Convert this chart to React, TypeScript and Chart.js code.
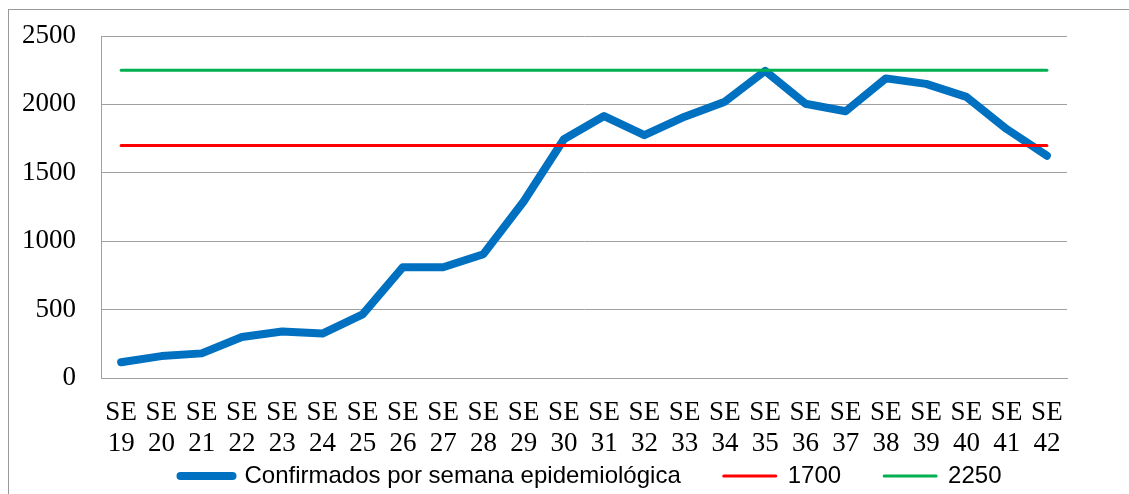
import React, { useEffect, useRef } from 'react';
import { Chart, registerables } from 'chart.js';
Chart.register(...registerables);

const weekNumbers = ['19','20','21','22','23','24','25','26','27','28','29','30','31','32','33','34','35','36','37','38','39','40','41','42'];
const categoryLabels = weekNumbers.map((w) => ['SE', w]);
const confirmedPerWeek = [115, 160, 180, 300, 340, 325, 465, 810, 810, 905, 1290, 1745, 1915, 1775, 1910, 2020, 2245, 2005, 1950, 2190, 2150, 2055, 1820, 1625];
const threshold1700 = [1700,1700,1700,1700,1700,1700,1700,1700,1700,1700,1700,1700,1700,1700,1700,1700,1700,1700,1700,1700,1700,1700,1700,1700];
const threshold2250 = [2250,2250,2250,2250,2250,2250,2250,2250,2250,2250,2250,2250,2250,2250,2250,2250,2250,2250,2250,2250,2250,2250,2250,2250];
const seriesNames = ['Confirmados por semana epidemiológica', '1700', '2250'];
const yTicks = [0, 500, 1000, 1500, 2000, 2500];

const CW = 1164;
const CH = 488;
const PLOT_RIGHT = 1058;

export default function App() {
  const ref = useRef<HTMLCanvasElement | null>(null);
  useEffect(() => {
    if (!ref.current) return;
    const defaultLabels = (Chart as any).defaults.plugins.legend.labels.generateLabels;
    const chart = new Chart(ref.current, {
      type: 'line',
      data: {
        labels: categoryLabels,
        datasets: [
          {
            label: seriesNames[0],
            data: confirmedPerWeek,
            borderColor: '#0070C0',
            backgroundColor: '#0070C0',
            borderWidth: 8,
            borderCapStyle: 'round',
            borderJoinStyle: 'round',
            pointRadius: 0,
            tension: 0,
            order: 3,
          },
          {
            label: seriesNames[1],
            data: threshold1700,
            borderColor: '#FF0000',
            backgroundColor: '#FF0000',
            borderWidth: 3,
            borderCapStyle: 'round',
            pointRadius: 0,
            order: 2,
          },
          {
            label: seriesNames[2],
            data: threshold2250,
            borderColor: '#00B050',
            backgroundColor: '#00B050',
            borderWidth: 3,
            borderCapStyle: 'round',
            pointRadius: 0,
            order: 1,
          },
        ],
      },
      options: {
        responsive: false,
        animation: false,
        devicePixelRatio: 1,
        layout: { padding: { top: 26, left: 0, right: 0, bottom: 0 } },
        plugins: {
          tooltip: { enabled: false },
          legend: {
            position: 'bottom',
            align: 'center',
            labels: {
              usePointStyle: true,
              pointStyle: 'line',
              pointStyleWidth: 52,
              padding: 43,
              color: '#000',
              font: { family: '"Liberation Sans", Arial, sans-serif', size: 24 },
              sort: (a: any, b: any) => a.datasetIndex - b.datasetIndex,
              generateLabels: (c: any) => {
                const items = defaultLabels(c);
                items.forEach((it: any) => { it.lineCap = 'round'; });
                return items;
              },
            },
          },
        },
        scales: {
          x: {
            offset: true,
            grid: { display: false, drawTicks: false },
            border: { display: true, color: '#A0A0A0', width: 1 },
            ticks: {
              autoSkip: false,
              maxRotation: 0,
              padding: 19.5,
              color: '#000',
              font: { family: '"Liberation Serif", "Times New Roman", serif', size: 27, lineHeight: 1.15 },
            },
            afterFit: (s: any) => {
              s.height = 43;
              s._computeLabelArea = () => undefined;
            },
          },
          y: {
            min: 0,
            max: 2500,
            afterBuildTicks: (s: any) => { s.ticks = yTicks.map((v) => ({ value: v })); },
            grid: { color: '#A0A0A0', lineWidth: 1, drawTicks: false },
            border: { display: true, color: '#A0A0A0', width: 1 },
            ticks: {
              padding: 25,
              color: '#000',
              font: { family: '"Liberation Serif", "Times New Roman", serif', size: 27 },
              callback: (v: any) => String(v),
            },
            afterFit: (s: any) => {
              s.width = 92;
              s.paddingTop = 16;
              s.paddingBottom = 16;
              s._computeLabelArea = () => undefined;
            },
          },
          y2: {
            type: 'linear',
            position: 'right',
            display: true,
            grid: { display: false, drawTicks: false },
            border: { display: false },
            ticks: { display: false },
            afterFit: (s: any) => { s.width = CW - PLOT_RIGHT; },
          },
        },
      },
    });
    return () => chart.destroy();
  }, []);
  return (
    <div
      style={{
        position: 'fixed',
        left: 8,
        top: 9,
        width: CW + 2,
        height: CH + 2,
        border: '1px solid #999',
        boxSizing: 'border-box',
        background: '#fff',
      }}
    >
      <canvas ref={ref} width={CW} height={CH} style={{ display: 'block', width: CW, height: CH }} />
    </div>
  );
}
